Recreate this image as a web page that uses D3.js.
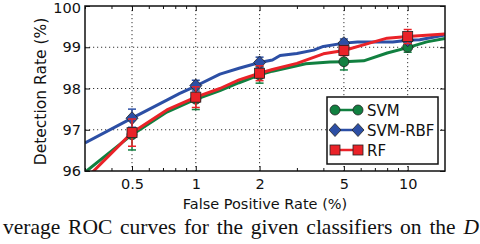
<!DOCTYPE html>
<html>
<head>
<meta charset="utf-8">
<script src="https://cdn.jsdelivr.net/npm/d3@7"></script>
<style>
  body { margin: 0; background: #fff; }
  svg { display: block; }
  text { font-family: "DejaVu Sans", sans-serif; fill: #111; }
</style>
</head>
<body>
<svg width="480" height="244"></svg>
<script>
// false positive rate (%) samples along each curve
var svmX   = [0.3, 0.5, 0.73, 1, 1.3, 1.6, 2, 2.3, 3.0, 3.3, 4.3, 5, 6.2, 8.0, 10, 12.3, 15];
var svmY   = [95.97, 96.88, 97.43, 97.74, 97.95, 98.14, 98.33, 98.42, 98.55, 98.6, 98.64, 98.65, 98.67, 98.86, 98.99, 99.13, 99.21];
var rbfX   = [0.3, 0.5, 0.73, 0.84, 1, 1.3, 1.6, 2, 2.3, 2.5, 3.0, 3.6, 4.0, 5, 5.8, 8.5, 10, 11.4, 15];
var rbfY   = [96.68, 97.28, 97.72, 97.88, 98.06, 98.35, 98.49, 98.63, 98.69, 98.8, 98.85, 98.93, 99.02, 99.1, 99.13, 99.13, 99.17, 99.18, 99.3];
var rfX    = [0.3, 0.5, 0.73, 1, 1.3, 1.6, 2, 2.3, 3.0, 4.0, 5, 6.6, 8.0, 10, 15];
var rfY    = [95.79, 96.93, 97.48, 97.79, 98.0, 98.21, 98.37, 98.46, 98.61, 98.84, 98.92, 99.1, 99.22, 99.26, 99.32];

// markers with error bars at the labelled rates
var markX  = [0.5, 1, 2, 5, 10];
var svmM   = [96.88, 97.74, 98.33, 98.65, 99.0];
var svmE   = [0.37, 0.25, 0.2, 0.2, 0.12];
var rbfM   = [97.28, 98.07, 98.63, 99.1, 99.17];
var rbfE   = [0.22, 0.13, 0.13, 0.1, 0.08];
var rfM    = [96.93, 97.79, 98.37, 98.92, 99.26];
var rfE    = [0.33, 0.25, 0.18, 0.12, 0.17];

var xTicks = [0.5, 1, 2, 5, 10];
var xMinor = [0.3, 0.4, 0.6, 0.7, 0.8, 0.9, 3, 4, 6, 7, 8, 9];
var yTicks = [96, 97, 98, 99, 100];
var names  = ["SVM", "SVM-RBF", "RF"];

var svg = d3.select("svg"),
    margin = {top: 6, right: 35, bottom: 73, left: 85},
    width = +svg.attr("width") - margin.left - margin.right,
    height = +svg.attr("height") - margin.top - margin.bottom,
    g = svg.append("g").attr("transform", "translate(" + margin.left + "," + margin.top + ")");

var x = d3.scaleLog().domain([0.3, 15]).range([0, width]);
var y = d3.scaleLinear().domain([96, 100]).range([height, 0]);

g.append("defs").append("clipPath")
    .attr("id", "clip")
  .append("rect")
    .attr("width", width)
    .attr("height", height);

// dotted grid at major ticks
var grid = g.append("g").attr("stroke", "#333").attr("stroke-width", 1)
    .attr("stroke-dasharray", "1.2,2.8");
grid.selectAll(".gx").data(xTicks).enter().append("line")
    .attr("x1", function(d) { return x(d); }).attr("x2", function(d) { return x(d); })
    .attr("y1", 0).attr("y2", height);
grid.selectAll(".gy").data(yTicks.slice(1, -1)).enter().append("line")
    .attr("x1", 0).attr("x2", width)
    .attr("y1", function(d) { return y(d); }).attr("y2", function(d) { return y(d); });

// axes: ticks point inward
var xAxis = g.append("g").attr("transform", "translate(0," + height + ")")
    .call(d3.axisBottom(x).tickValues(xTicks).tickFormat(d3.format("")).tickSizeInner(-5).tickSizeOuter(0).tickPadding(8));
var xMin = g.append("g").attr("transform", "translate(0," + height + ")")
    .call(d3.axisBottom(x).tickValues(xMinor).tickFormat("").tickSizeInner(-3).tickSizeOuter(0));
var yAxis = g.append("g")
    .call(d3.axisLeft(y).tickValues(yTicks).tickFormat(d3.format("d")).tickSizeInner(-5).tickSizeOuter(0).tickPadding(4));
var yRight = g.append("g").attr("transform", "translate(" + width + ",0)")
    .call(d3.axisRight(y).tickValues(yTicks).tickFormat("").tickSizeInner(-5).tickSizeOuter(0));
var xTop = g.append("g")
    .call(d3.axisTop(x).tickValues(xTicks).tickFormat("").tickSizeInner(-5).tickSizeOuter(0));
var xTopMin = g.append("g")
    .call(d3.axisTop(x).tickValues(xMinor).tickFormat("").tickSizeInner(-3).tickSizeOuter(0));

[xAxis, xMin, yAxis, yRight, xTop, xTopMin].forEach(function(a) {
    a.select(".domain").remove();
    a.selectAll("line").attr("stroke", "#111");
    a.selectAll("text").attr("font-size", 14.5).attr("font-family", "DejaVu Sans").attr("fill", "#111");
});
// keep the top label inside the picture
yAxis.selectAll("text").filter(function(d) { return d === 100; }).attr("dy", "0.42em");

var series = [
    {name: names[0], xs: svmX, ys: svmY, m: svmM, e: svmE, color: "#118040", shape: "circle"},
    {name: names[1], xs: rbfX, ys: rbfY, m: rbfM, e: rbfE, color: "#2c4fa5", shape: "diamond"},
    {name: names[2], xs: rfX,  ys: rfY,  m: rfM,  e: rfE,  color: "#ea2228", shape: "square"}
];

var line = d3.line()
    .x(function(d) { return x(d[0]); })
    .y(function(d) { return y(d[1]); });

function marker(sel, shape, color) {
    if (shape === "circle") {
        sel.append("circle").attr("r", 5);
    } else if (shape === "diamond") {
        sel.append("path").attr("d", "M0,-6.5L6,0L0,6.5L-6,0Z");
    } else {
        sel.append("rect").attr("x", -5).attr("y", -5).attr("width", 10).attr("height", 10);
    }
    sel.selectAll("circle,path,rect").attr("fill", color).attr("stroke", "#222").attr("stroke-width", 0.8);
}

var plot = g.append("g").attr("clip-path", "url(#clip)");
series.forEach(function(s) {
    var pts = s.xs.map(function(v, i) { return [v, s.ys[i]]; });
    plot.append("path")
        .datum(pts)
        .attr("fill", "none")
        .attr("stroke", s.color)
        .attr("stroke-width", 3)
        .attr("stroke-linejoin", "round")
        .attr("d", line);
    markX.forEach(function(v, i) {
        var px = x(v), lo = y(s.m[i] - s.e[i]), hi = y(s.m[i] + s.e[i]);
        var eb = g.append("g").attr("stroke", s.color).attr("stroke-width", 1.5);
        eb.append("line").attr("x1", px).attr("x2", px).attr("y1", lo).attr("y2", hi);
        eb.append("line").attr("x1", px - 4).attr("x2", px + 4).attr("y1", lo).attr("y2", lo);
        eb.append("line").attr("x1", px - 4).attr("x2", px + 4).attr("y1", hi).attr("y2", hi);
        var mk = g.append("g").attr("transform", "translate(" + px + "," + y(s.m[i]) + ")");
        marker(mk, s.shape, s.color);
    });
});

// frame
g.append("rect").attr("width", width).attr("height", height)
    .attr("fill", "none").attr("stroke", "#111").attr("stroke-width", 1.5);

// legend
var lg = g.append("g").attr("transform", "translate(" + (327 - margin.left) + "," + (97 - margin.top) + ")");
lg.append("rect").attr("width", 111).attr("height", 67)
    .attr("fill", "#fff").attr("stroke", "#111").attr("stroke-width", 1.5);
series.forEach(function(s, i) {
    var row = lg.append("g").attr("transform", "translate(0," + (13 + i * 20) + ")");
    row.append("line").attr("x1", 8).attr("x2", 31).attr("stroke", s.color).attr("stroke-width", 2.5);
    marker(row.append("g").attr("transform", "translate(8,0)"), s.shape, s.color);
    marker(row.append("g").attr("transform", "translate(31,0)"), s.shape, s.color);
    row.append("text").attr("x", 40).attr("y", 5.5).attr("font-size", 15).text(s.name);
});

// axis labels
svg.append("text")
    .attr("x", margin.left + width / 2).attr("y", 209)
    .attr("text-anchor", "middle").attr("font-size", 14.5)
    .text("False Positive Rate (%)");
svg.append("text")
    .attr("transform", "translate(46," + (margin.top + height / 2 + 3) + ") rotate(-90)")
    .attr("text-anchor", "middle").attr("font-size", 15.5)
    .text("Detection Rate (%)");

// cut-off caption line from the paper
var cap = svg.append("text")
    .attr("x", 3).attr("y", 234)
    .attr("font-size", 21.5)
    .attr("word-spacing", 2.4)
    .style("font-family", "'Liberation Serif', serif");
cap.append("tspan").text("verage ROC curves for the given classifiers on the ");
cap.append("tspan").attr("font-style", "italic").text("D");
</script>
</body>
</html>
